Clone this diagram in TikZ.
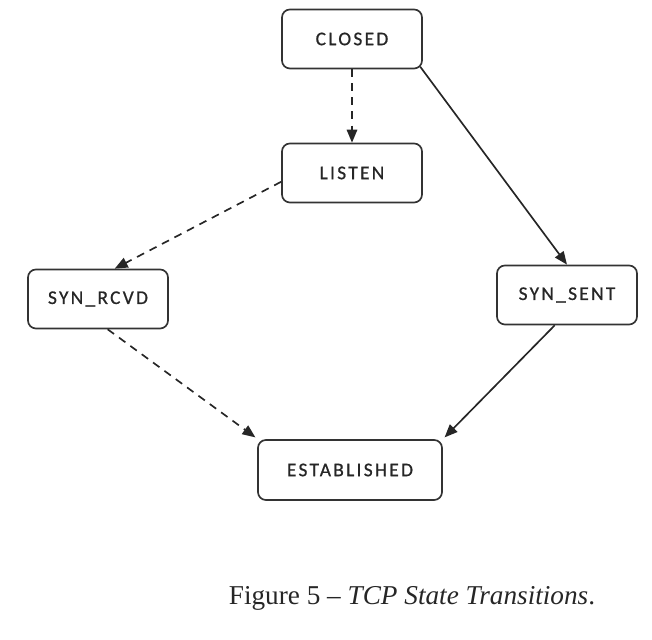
\documentclass[tikz,border=0pt]{standalone}
\usepackage{fontspec}
\setmainfont{Liberation Serif}
\newfontfamily\boxfont[LetterSpace=12,FakeBold=0.8]{Carlito}
\usetikzlibrary{arrows.meta}
\definecolor{ink}{HTML}{262626}
\definecolor{frame}{HTML}{333333}

\begin{document}
\begin{tikzpicture}[
    line width=0.95pt, >={Triangle[length=2.6mm,width=2.1mm]},
    color=ink,
    state/.style={draw=frame, rounded corners=4.5pt, minimum width=2.8cm, minimum height=1.18cm,
                  font=\boxfont\fontsize{11}{13}\selectfont, text=ink, inner sep=2pt},
    passive/.style={->, dash pattern=on 4.5pt off 3.5pt},
    active/.style={->}]
  % fixed 13.04 cm x 12.8 cm canvas (652 x 640 px)
  \path[use as bounding box] (0,0) rectangle (13.04,12.8);

  % ================= states =================
  \node[state] (closed) at (7.04,12.02) {CLOSED};
  \node[state] (listen) at (7.04,9.34) {LISTEN};
  \node[state] (rcvd) at (1.96,6.82) {SYN\_RCVD};
  \node[state] (sent) at (11.34,6.90) {SYN\_SENT};
  \node[state, minimum width=3.68cm, minimum height=1.2cm] (est) at (7.00,3.40) {ESTABLISHED};

  % ================= passive open (dashed) =================
  \draw[passive] (closed.south) -- (listen.north);
  \draw[passive] ([yshift=-5pt]listen.west) -- ([xshift=9.5pt]rcvd.north);
  \draw[passive] ([xshift=5.5pt]rcvd.south) -- ([shift={(-1pt,1pt)}]est.north west);

  % ================= active open (solid) =================
  \draw[active] ([shift={(-1.5pt,1.5pt)}]closed.south east) -- (sent.north);
  \draw[active] ([xshift=-7pt]sent.south) -- ([shift={(1pt,1pt)}]est.north east);

  % ================= caption =================
  \node[font=\fontsize{15.5}{18}\selectfont, text=black!85] (caption) at (8.24,0.84)
    {Figure 5 -- \textit{TCP State Transitions}.};
\end{tikzpicture}
\end{document}
